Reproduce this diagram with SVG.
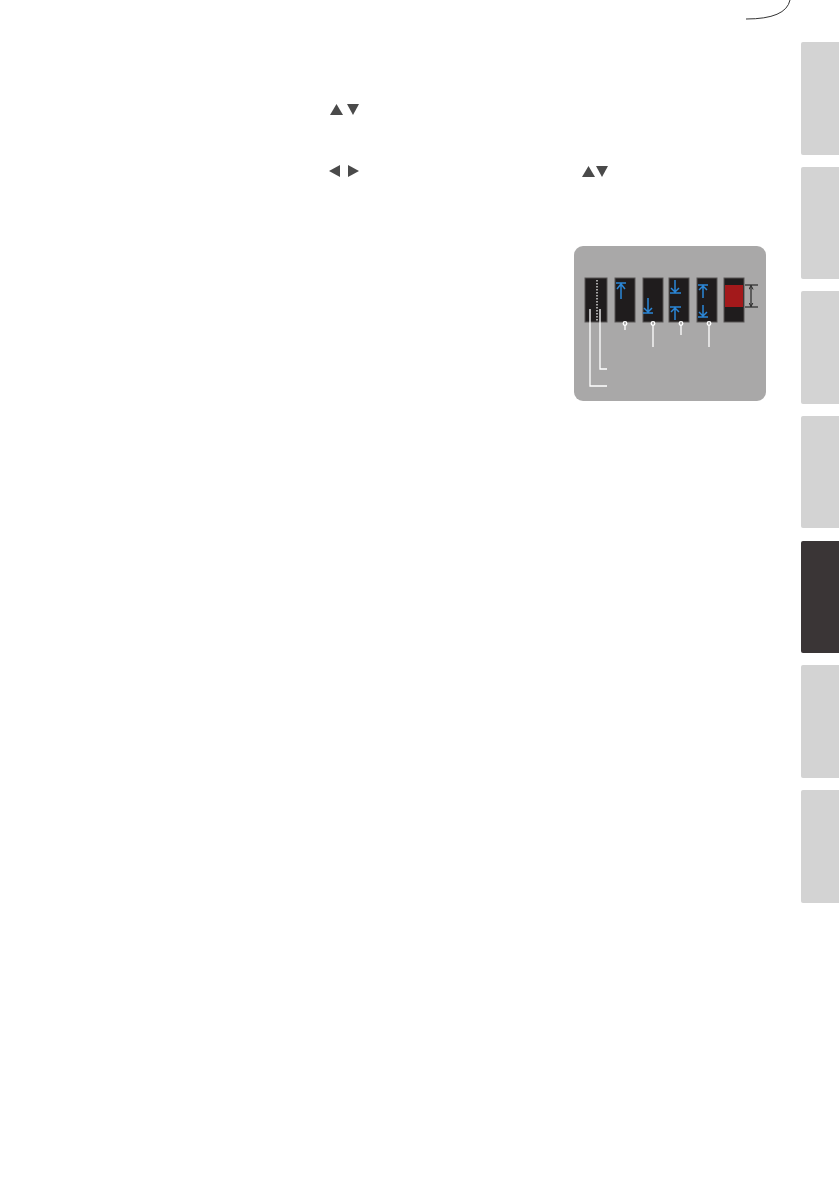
<svg xmlns="http://www.w3.org/2000/svg" width="839" height="1191" viewBox="0 0 839 1191">
<style>
.tab{fill:#d3d3d3}
.tabedge{fill:#dcdcdc}
.tri{fill:#4a4a4a}
.bar{fill:#1f1c1d;stroke:#595555;stroke-width:1}
.blue{fill:none;stroke:#2b87d8;stroke-width:1.5}
.wht{fill:none;stroke:#ffffff;stroke-width:1.3}
.dim{fill:none;stroke:#111111;stroke-width:1}
</style>
<defs>
<marker id="ah" viewBox="0 0 6 6" refX="3" refY="3" markerWidth="5" markerHeight="5" orient="auto-start-reverse">
<path d="M0,0.5 L5,3 L0,5.5" fill="none" stroke="#111" stroke-width="1"/>
</marker>
</defs>
<rect width="839" height="1191" fill="#ffffff"/>
<path d="M746,19 Q786,19 790,0" fill="none" stroke="#333" stroke-width="1"/>
<g id="tabs">
<rect class="tab" x="801" y="42" width="40" height="113" rx="2"/>
<rect class="tab" x="801" y="167" width="40" height="112" rx="2"/>
<rect class="tab" x="801" y="291" width="40" height="113" rx="2"/>
<rect class="tab" x="801" y="416" width="40" height="112" rx="2"/>
<rect x="801" y="541" width="40" height="112" rx="2" fill="#3a3536"/>
<rect class="tab" x="801" y="665" width="40" height="113" rx="2"/>
<rect class="tab" x="801" y="790" width="40" height="113" rx="2"/>
</g>
<g id="triangles">
<polygon class="tri" points="330,115 336.5,104 343,115"/>
<polygon class="tri" points="347,104 359,104 353,115"/>
<polygon class="tri" points="340,165 340,177 329,171"/>
<polygon class="tri" points="348,165 348,177 359,171"/>
<polygon class="tri" points="582,177 588.5,166 595,177"/>
<polygon class="tri" points="596,166 608,166 602,177"/>
</g>
<g id="panel">
<rect x="574" y="246" width="192" height="155" rx="9" fill="#a9a8a8"/>
</g>
<g id="bar1">
<rect class="bar" x="585" y="278" width="22" height="44"/>
<line x1="597" y1="280" x2="597" y2="321" stroke="#fff" stroke-width="1.2" stroke-dasharray="1.5 1.5"/>
</g>
<g id="bar2">
<rect class="bar" x="615" y="278" width="20" height="44"/>
<path class="blue" d="M616,283 H626 M621,284 V299 M617,289 L621,284 L625,289"/>
</g>
<g id="bar3">
<rect class="bar" x="643" y="278" width="20" height="44"/>
<path class="blue" d="M643,313 H653 M648,298 V312 M644,308 L648,312 L652,308"/>
</g>
<g id="bar4">
<rect class="bar" x="669" y="278" width="20" height="44"/>
<path class="blue" d="M670,293 H681 M675,280 V292 M671,288 L675,292 L679,288 M670,307 H681 M675,308 V320 M671,312 L675,308 L679,312"/>
</g>
<g id="bar5">
<rect class="bar" x="697" y="278" width="20" height="44"/>
<path class="blue" d="M698,285 H708 M703,286 V298 M699,290 L703,286 L707,290 M698,317 H708 M703,305 V316 M699,312 L703,316 L707,312"/>
</g>
<g id="bar6">
<rect class="bar" x="724" y="278" width="20" height="44"/>
<rect x="725" y="285" width="18" height="22" fill="#a3191b"/>
<path class="dim" d="M745,285 H758 M745,307 H758"/>
<line class="dim" x1="751" y1="287" x2="751" y2="305" marker-start="url(#ah)" marker-end="url(#ah)"/>
</g>
<g id="connectors">
<path class="wht" d="M590,309 V386 H607"/>
<path class="wht" d="M600,309 V369 H607"/>
<path class="wht" d="M625,325 V330"/>
<circle class="wht" cx="625" cy="323.5" r="1.8"/>
<path class="wht" d="M653,325 V347"/>
<circle class="wht" cx="653" cy="323.5" r="1.8"/>
<path class="wht" d="M681,325 V335"/>
<circle class="wht" cx="681" cy="323.5" r="1.8"/>
<path class="wht" d="M709,325 V347"/>
<circle class="wht" cx="709" cy="323.5" r="1.8"/>
</g>
</svg>
